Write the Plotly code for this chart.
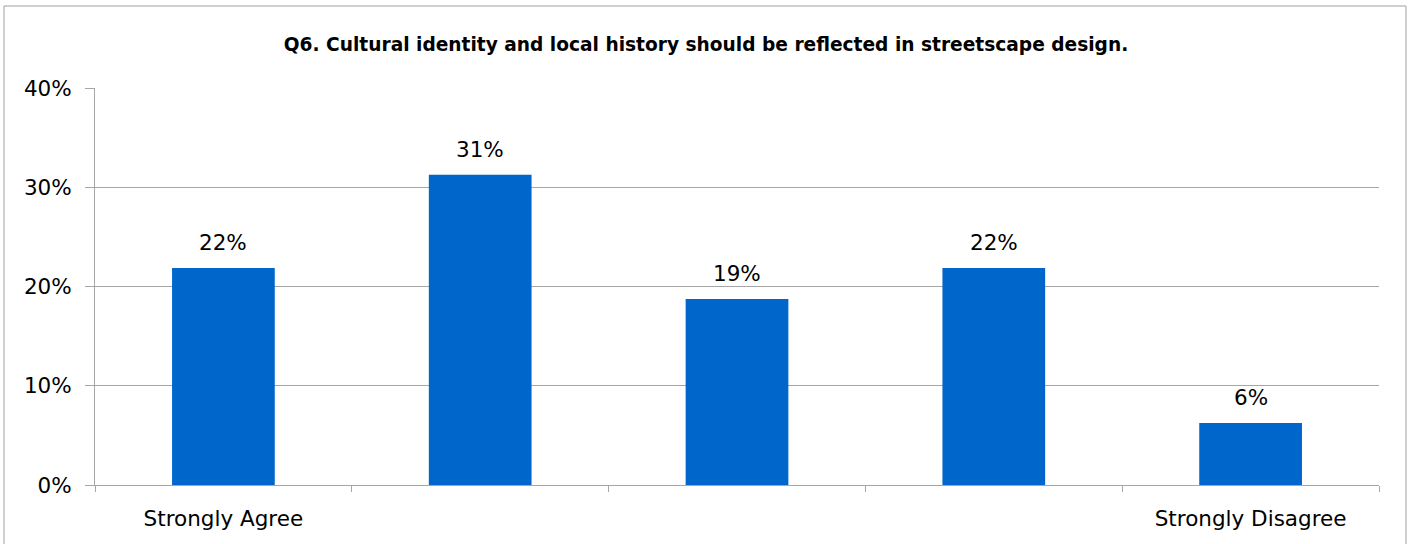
import plotly.graph_objects as go

categories = ["Strongly Agree", "Agree", "Neutral", "Disagree", "Strongly Disagree"]
tick_labels = ["Strongly Agree", "", "", "", "Strongly Disagree"]
values = [0.21875, 0.3125, 0.1875, 0.21875, 0.0625]
value_labels = ["22%", "31%", "19%", "22%", "6%"]
title_text = "Q6. Cultural identity and local history should be reflected in streetscape design."

FONT = "DejaVu Sans"
GRID = "#a6a6a6"
FS = 21.5

fig = go.Figure(
    go.Bar(
        x=categories,
        y=values,
        marker=dict(color="#0066CC", line=dict(width=0)),
        hoverinfo="skip",
    )
)

for cat, val, lab in zip(categories, values, value_labels):
    fig.add_annotation(
        x=cat, y=val, text=lab, showarrow=False,
        yanchor="bottom", yshift=11,
        font=dict(family=FONT, size=FS, color="#000000"),
    )

fig.update_layout(
    width=1412,
    height=544,
    margin=dict(l=95, r=33, t=88, b=59),
    paper_bgcolor="white",
    plot_bgcolor="white",
    bargap=0.6,
    showlegend=False,
    title=dict(
        text="<b>" + title_text + "</b>",
        font=dict(family=FONT, size=18.6, color="#000000"),
        xref="container", x=0.5, xanchor="center",
        yref="container", y=1 - 44 / 544, yanchor="middle",
    ),
    font=dict(family=FONT, color="#000000"),
)

fig.update_xaxes(
    type="category",
    tickmode="array",
    tickvals=categories,
    ticktext=tick_labels,
    tickson="boundaries",
    ticks="outside",
    ticklen=6,
    tickcolor=GRID,
    showline=True,
    linecolor=GRID,
    linewidth=1,
    showgrid=False,
    tickfont=dict(family=FONT, size=FS, color="#000000"),
    ticklabelstandoff=14,
)

fig.update_yaxes(
    range=[0, 0.4],
    dtick=0.1,
    tickformat=".0%",
    ticks="outside",
    ticklen=9,
    tickcolor=GRID,
    showline=True,
    linecolor=GRID,
    linewidth=1,
    showgrid=True,
    gridcolor=GRID,
    gridwidth=1,
    zeroline=False,
    tickfont=dict(family=FONT, size=FS, color="#000000"),
    ticklabelstandoff=9,
)

# outer chart border
fig.add_shape(
    type="rect",
    xref="paper", yref="paper",
    x0=(4 - 95) / 1284, x1=(1406 - 95) / 1284,
    y0=-0.3, y1=(485 - 6) / 397,
    line=dict(color="#a0a0a0", width=1),
    fillcolor="rgba(0,0,0,0)",
    layer="below",
)

fig.write_html(
    "out.html",
    config={"displayModeBar": False},
    post_script="document.body.style.margin='0';document.body.style.padding='0';",
)
